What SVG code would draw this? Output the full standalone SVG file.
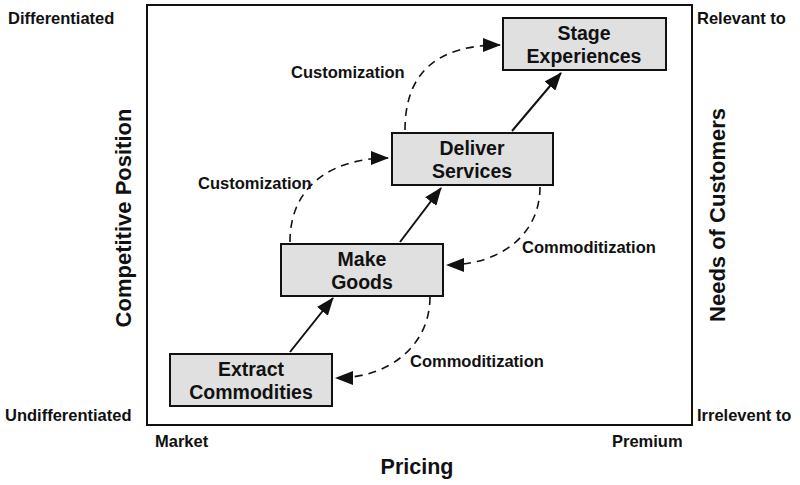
<svg xmlns="http://www.w3.org/2000/svg" width="800" height="485" viewBox="0 0 800 485">
<style>
text{font-family:"Liberation Sans",Arial,sans-serif;font-weight:bold;fill:#111}
.n rect{fill:#e0e0e0;stroke:#111;stroke-width:2}
.n text{font-size:19.5px;text-anchor:middle}
.s{font-size:16.5px}
.d{fill:none;stroke:#111;stroke-width:1.6;stroke-dasharray:8,6}
.a{stroke:#111;stroke-width:2}
</style>
<defs><marker id="m2" markerWidth="18" markerHeight="14" refX="17" refY="7" orient="auto" markerUnits="userSpaceOnUse"><path d="M0,0 L18,7 L0,14 Z" fill="#111"/></marker></defs>
<rect x="147" y="5" width="545" height="420" fill="none" stroke="#111" stroke-width="2"/>
<g id="connectors">
<line class="a" x1="290" y1="352" x2="333" y2="298" marker-end="url(#m2)"/>
<line class="a" x1="400" y1="242" x2="441" y2="188" marker-end="url(#m2)"/>
<line class="a" x1="512" y1="131" x2="561" y2="73" marker-end="url(#m2)"/>
<path class="d" d="M290,242 C290,180 340,158 388,158" marker-end="url(#m2)"/>
<path class="d" d="M405,130 C405,70 440,45 500,45" marker-end="url(#m2)"/>
<path class="d" d="M540,187 C540,235 500,265 447,265" marker-end="url(#m2)"/>
<path class="d" d="M430,297 C430,345 390,378 336,378" marker-end="url(#m2)"/>
</g>
<g id="stage" class="n"><rect x="503" y="18" width="163" height="52"/><text x="584" y="40">Stage</text><text x="584" y="63">Experiences</text></g>
<g id="deliver" class="n"><rect x="392" y="133" width="161" height="52"/><text x="472" y="155">Deliver</text><text x="472" y="178">Services</text></g>
<g id="make" class="n"><rect x="281" y="244" width="162" height="52"/><text x="362" y="266">Make</text><text x="362" y="289">Goods</text></g>
<g id="extract" class="n"><rect x="170" y="354" width="162" height="52"/><text x="251" y="376">Extract</text><text x="251" y="399">Commodities</text></g>
<text class="s" x="291" y="78">Customization</text>
<text class="s" x="198" y="189">Customization</text>
<text class="s" x="522" y="253">Commoditization</text>
<text class="s" x="410" y="367">Commoditization</text>
<text class="s" x="8" y="24">Differentiated</text>
<text class="s" x="5" y="421">Undifferentiated</text>
<text class="s" x="697" y="24">Relevant to</text>
<text class="s" x="697" y="421">Irrelevent to</text>
<text class="s" x="155" y="447">Market</text>
<text class="s" x="612" y="447">Premium</text>
<text x="417" y="474" font-size="21.5" text-anchor="middle">Pricing</text>
<text transform="translate(131,218) rotate(-90)" font-size="22" text-anchor="middle">Competitive Position</text>
<text transform="translate(725,215) rotate(-90)" font-size="22" text-anchor="middle">Needs of Customers</text>
</svg>
